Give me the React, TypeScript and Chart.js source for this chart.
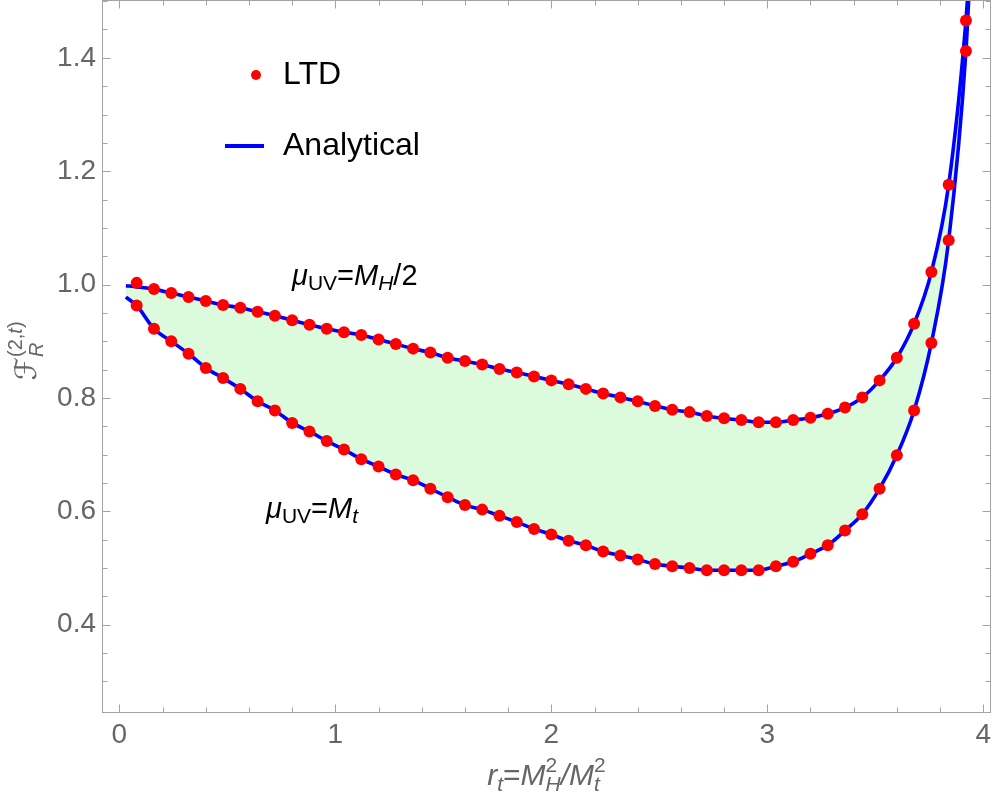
import React, { useEffect, useRef } from 'react';
import { Chart, registerables } from 'chart.js';

Chart.register(...registerables);

const SANS = '"Liberation Sans", Arial, Helvetica, sans-serif';
const SCRIPT = '"DejaVu Serif", "DejaVu Sans", "Liberation Serif", serif';

// r_t values at which the LTD integration was evaluated
const rSamples = [
  0.08, 0.16, 0.24, 0.32, 0.4, 0.48, 0.56, 0.64, 0.72, 0.8, 0.88, 0.96, 1.04, 1.12, 1.2, 1.28, 1.36,
  1.44, 1.52, 1.6, 1.68, 1.76, 1.84, 1.92, 2.0, 2.08, 2.16, 2.24, 2.32, 2.4, 2.48, 2.56, 2.64, 2.72,
  2.8, 2.88, 2.96, 3.04, 3.12, 3.2, 3.28, 3.36, 3.44, 3.52, 3.6, 3.68, 3.76, 3.84, 3.92,
];

// LTD results, mu_UV = M_H / 2
const ltdHalfHiggs = [
  1.003, 0.992, 0.985, 0.978, 0.971, 0.964, 0.959, 0.952, 0.945, 0.937, 0.929, 0.922, 0.916, 0.911,
  0.903, 0.895, 0.887, 0.88, 0.871, 0.865, 0.859, 0.851, 0.845, 0.838, 0.831, 0.824, 0.816, 0.808,
  0.801, 0.794, 0.786, 0.779, 0.775, 0.768, 0.764, 0.761, 0.757, 0.757, 0.761, 0.765, 0.772, 0.783,
  0.801, 0.831, 0.871, 0.931, 1.022, 1.176, 1.466,
];

// LTD results, mu_UV = M_t
const ltdTopMass = [
  0.963, 0.922, 0.9, 0.878, 0.853, 0.835, 0.816, 0.794, 0.778, 0.756, 0.741, 0.724, 0.709, 0.692,
  0.679, 0.665, 0.655, 0.64, 0.625, 0.611, 0.603, 0.592, 0.581, 0.569, 0.559, 0.548, 0.54, 0.529,
  0.522, 0.515, 0.507, 0.503, 0.5, 0.496, 0.496, 0.496, 0.496, 0.503, 0.511, 0.525, 0.54, 0.566,
  0.595, 0.64, 0.699, 0.778, 0.897, 1.078, 1.412,
];

// Analytical curves: same sampling, plus the ends of the plotted range
const analyticStartR = 0.03;
const analyticEndR = 3.94;
const analyticHalfHiggsStart = [0.998, 0.996];
const analyticHalfHiggsEnd = 1.58;
const analyticTopMassStart = 0.978;
const analyticTopMassEnd = 1.56;

const analyticR = [analyticStartR, ...rSamples, analyticEndR];
const analyticHalfHiggs = [...analyticHalfHiggsStart, ...ltdHalfHiggs.slice(1), analyticHalfHiggsEnd];
const analyticTopMass = [analyticTopMassStart, ...ltdTopMass, analyticTopMassEnd];

// axis settings
const xRange = [-0.0806, 4.036];
const yRange = [0.246, 1.502];
const xMajorTicks = [0, 1, 2, 3, 4];
const yMajorTicks = [0.4, 0.6, 0.8, 1.0, 1.2, 1.4];
const xMinorStep = 0.2;
const yMinorStep = 0.05;

const toXY = (xs: number[], ys: number[]) => xs.map((x, i) => ({ x, y: ys[i] }));

type Piece = { text: string; size: number; italic?: boolean; shift?: number; family?: string };
type Run = Piece | { stack: Piece[][] };

const fontOf = (p: Piece) => `${p.italic ? 'italic ' : ''}${p.size}px ${p.family || SANS}`;

function seqWidth(ctx: CanvasRenderingContext2D, seq: Piece[]) {
  let w = 0;
  for (const p of seq) {
    ctx.font = fontOf(p);
    w += ctx.measureText(p.text).width;
  }
  return w;
}

function runsWidth(ctx: CanvasRenderingContext2D, runs: Run[]) {
  let w = 0;
  for (const r of runs) {
    if ('stack' in r) w += Math.max(...r.stack.map((s) => seqWidth(ctx, s)));
    else w += seqWidth(ctx, [r]);
  }
  return w;
}

function drawSeq(ctx: CanvasRenderingContext2D, seq: Piece[], x: number, y: number) {
  let cx = x;
  for (const p of seq) {
    ctx.font = fontOf(p);
    ctx.fillText(p.text, cx, y + (p.shift || 0));
    cx += ctx.measureText(p.text).width;
  }
}

function drawRuns(ctx: CanvasRenderingContext2D, runs: Run[], x: number, y: number) {
  ctx.textAlign = 'left';
  ctx.textBaseline = 'alphabetic';
  let cx = x;
  for (const r of runs) {
    if ('stack' in r) {
      for (const s of r.stack) drawSeq(ctx, s, cx, y);
      cx += Math.max(...r.stack.map((s) => seqWidth(ctx, s)));
    } else {
      drawSeq(ctx, [r], cx, y);
      cx += seqWidth(ctx, [r]);
    }
  }
}

const muLabel = (tail: Run[]): Run[] => [
  { text: 'μ', size: 29, italic: true },
  { text: 'UV', size: 21, shift: 5 },
  { text: '=', size: 29 },
  ...tail,
];

const labelHalfHiggs: Run[] = muLabel([
  { text: 'M', size: 29, italic: true },
  { text: 'H', size: 21, italic: true, shift: 5 },
  { text: '/2', size: 29 },
]);

const labelTopMass: Run[] = muLabel([
  { text: 'M', size: 29, italic: true },
  { text: 't', size: 21, italic: true, shift: 5 },
]);

const xTitle: Run[] = [
  { text: 'r', size: 30, italic: true },
  { text: 't', size: 21, italic: true, shift: 6 },
  { text: '=', size: 30 },
  { text: 'M', size: 30, italic: true },
  { stack: [[{ text: 'H', size: 21, italic: true, shift: 6 }], [{ text: '2', size: 21, shift: -13 }]] },
  { text: '/', size: 30, italic: true },
  { text: 'M', size: 30, italic: true },
  { stack: [[{ text: 't', size: 21, italic: true, shift: 6 }], [{ text: '2', size: 21, shift: -13 }]] },
];

const yTitle: Run[] = [
  { text: 'ℱ', size: 30, family: SCRIPT, italic: true },
  {
    stack: [
      [{ text: 'R', size: 20, italic: true, shift: 7 }],
      [
        { text: '(2,', size: 20, shift: -14 },
        { text: 't', size: 20, italic: true, shift: -14 },
        { text: ')', size: 20, shift: -14 },
      ],
    ],
  },
];

const FRAME = '#a3a3a3';
const TICK_TEXT = '#666666';
const TICK_FONT = `28px ${SANS}`;

const framePlugin = {
  id: 'frameAndText',
  afterDatasetsDraw(chart: any) {
    const { ctx, chartArea: a, scales } = chart;
    const xs = scales.x;
    const ys = scales.y;
    ctx.save();
    ctx.strokeStyle = FRAME;
    ctx.lineWidth = 1;
    const L = Math.round(a.left) + 0.5;
    const R = Math.round(a.right) - 0.5;
    const T = Math.round(a.top) + 0.5;
    const B = Math.round(a.bottom) + 0.5;
    ctx.strokeRect(L, T, R - L, B - T);

    ctx.beginPath();
    // ticks along top and bottom edges
    for (let v = 0; v <= xRange[1] + 1e-9; v += xMinorStep) {
      const val = Math.round(v * 100) / 100;
      const len = xMajorTicks.includes(val) ? 8 : 5;
      const px = Math.round(xs.getPixelForValue(val)) + 0.5;
      ctx.moveTo(px, B);
      ctx.lineTo(px, B - len);
      ctx.moveTo(px, T);
      ctx.lineTo(px, T + len);
    }
    // ticks along left and right edges
    for (let v = 0.3; v < yRange[1] - 1e-6; v += yMinorStep) {
      const val = Math.round(v * 100) / 100;
      const len = yMajorTicks.some((t) => Math.abs(t - val) < 1e-6) ? 8 : 5;
      const py = Math.round(ys.getPixelForValue(val)) + 0.5;
      ctx.moveTo(L, py);
      ctx.lineTo(L + len, py);
      ctx.moveTo(R, py);
      ctx.lineTo(R - len, py);
    }
    ctx.stroke();

    // tick labels
    ctx.fillStyle = TICK_TEXT;
    ctx.font = TICK_FONT;
    ctx.textAlign = 'center';
    ctx.textBaseline = 'alphabetic';
    for (const v of xMajorTicks) {
      ctx.fillText(String(v), xs.getPixelForValue(v), a.bottom + 31);
    }
    ctx.textAlign = 'right';
    ctx.textBaseline = 'middle';
    for (const v of yMajorTicks) {
      ctx.fillText(v.toFixed(1), a.left - 6, ys.getPixelForValue(v));
    }
    ctx.restore();
  },
  afterDraw(chart: any) {
    const { ctx, chartArea: a } = chart;
    ctx.save();

    // legend
    ctx.fillStyle = '#ff0000';
    ctx.beginPath();
    ctx.arc(256, 75, 5, 0, Math.PI * 2);
    ctx.fill();
    ctx.strokeStyle = '#0000ff';
    ctx.lineWidth = 4;
    ctx.beginPath();
    ctx.moveTo(225, 146);
    ctx.lineTo(264, 146);
    ctx.stroke();
    ctx.fillStyle = '#000000';
    ctx.font = `32px ${SANS}`;
    ctx.textAlign = 'left';
    ctx.textBaseline = 'alphabetic';
    ctx.fillText('LTD', 283, 84);
    ctx.fillText('Analytical', 283, 155);

    // curve labels
    drawRuns(ctx, labelHalfHiggs, 292, 285);
    drawRuns(ctx, labelTopMass, 266, 518);

    // axis titles
    ctx.fillStyle = TICK_TEXT;
    const xw = runsWidth(ctx, xTitle);
    drawRuns(ctx, xTitle, (a.left + a.right) / 2 - xw / 2, 785);

    const yw = runsWidth(ctx, yTitle);
    ctx.translate(36, 351);
    ctx.rotate(-Math.PI / 2);
    drawRuns(ctx, yTitle, -yw / 2, 0);
    ctx.restore();
  },
};

export default function App() {
  const canvasRef = useRef<HTMLCanvasElement | null>(null);

  useEffect(() => {
    const canvas = canvasRef.current;
    if (!canvas) return;
    const lineStyle = {
      showLine: true,
      pointRadius: 0,
      borderColor: '#0000ff',
      borderWidth: 3.6,
      cubicInterpolationMode: 'monotone' as const,
      order: 1,
    };
    const pointStyle = {
      showLine: false,
      pointRadius: 6,
      pointBackgroundColor: '#ff0000',
      pointBorderWidth: 0,
      borderColor: '#ff0000',
      backgroundColor: '#ff0000',
      order: 0,
    };
    const chart = new Chart(canvas, {
      type: 'line',
      data: {
        datasets: [
          {
            ...lineStyle,
            label: 'Analytical, μ_UV = M_H/2',
            data: toXY(analyticR, analyticHalfHiggs),
            fill: '+1',
            backgroundColor: '#dcfadc',
          },
          {
            ...lineStyle,
            label: 'Analytical, μ_UV = M_t',
            data: toXY(analyticR, analyticTopMass),
            fill: false,
          },
          { ...pointStyle, label: 'LTD, μ_UV = M_H/2', data: toXY(rSamples, ltdHalfHiggs) },
          { ...pointStyle, label: 'LTD, μ_UV = M_t', data: toXY(rSamples, ltdTopMass) },
        ],
      },
      options: {
        responsive: false,
        devicePixelRatio: 1,
        animation: false,
        events: [],
        layout: { autoPadding: false, padding: { left: 102, top: 0, right: 3, bottom: 91 } },
        plugins: {
          legend: { display: false },
          tooltip: { enabled: false },
          filler: { drawTime: 'beforeDatasetsDraw' },
        },
        scales: {
          x: { type: 'linear', display: false, min: xRange[0], max: xRange[1] },
          y: { type: 'linear', display: false, min: yRange[0], max: yRange[1] },
        },
      },
      plugins: [framePlugin],
    });
    return () => chart.destroy();
  }, []);

  return (
    <div style={{ position: 'absolute', left: 0, top: 0, width: 994, height: 803, background: '#ffffff' }}>
      <canvas ref={canvasRef} width={994} height={803} style={{ display: 'block' }} />
    </div>
  );
}
